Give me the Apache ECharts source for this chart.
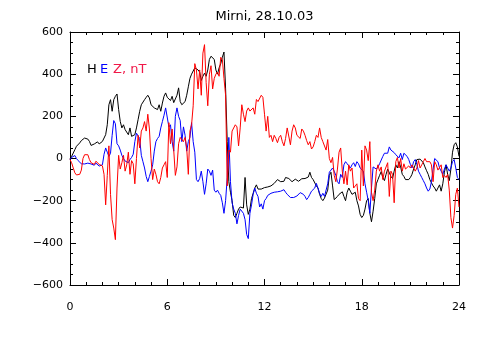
<!DOCTYPE html>
<html>
<head>
<meta charset="utf-8">
<script src="https://cdn.jsdelivr.net/npm/echarts@6/dist/echarts.min.js"></script>
<style>html,body{margin:0;padding:0;background:#fff}#c{width:480px;height:350px}</style>
</head>
<body>
<div id="c"></div>
<script>
// Time step of the records (hours)
const STEP_HOURS = 0.1;
const xTicks = [0, 6, 12, 18, 24];
const yTicks = [-600, -400, -200, 0, 200, 400, 600];
const seriesNames = ['H', 'E', 'Z'];

// H component, nT
const H_nT = [
  0,10,26,42,58,66,74,85,92,97,
  97,92,81,62,58,69,66,79,69,74,
  81,89,113,160,255,279,224,279,295,306,
  232,176,145,160,137,145,113,145,105,97,
  113,145,184,224,255,263,279,290,300,287,
  255,248,240,248,232,255,224,263,295,311,
  290,287,275,295,265,270,300,335,270,255,
  260,270,300,340,380,400,415,430,425,420,
  410,370,390,405,390,420,470,485,490,470,
  420,400,430,450,480,505,330,80,-110,-160,
  -200,-270,-280,-260,-240,-230,-225,-235,-90,-220,
  -265,-240,-190,-165,-140,-125,-145,-150,-145,-140,
  -138,-140,-135,-140,-130,-122,-118,-112,-100,-105,
  -110,-102,-108,-90,-92,-95,-100,-110,-106,-98,
  -104,-108,-100,-96,-100,-95,-92,-88,-65,-90,
  -100,-108,-130,-140,-170,-190,-200,-188,-180,-150,
  -80,-65,-130,-195,-195,-180,-170,-165,-158,-180,
  -200,-160,-140,-155,-170,-175,-160,-200,-225,-265,
  -280,-270,-240,-200,-190,-260,-300,-250,-190,-120,
  -100,-80,-62,-90,-105,-75,-50,-55,-85,-95,
  -60,-30,-45,-15,-40,-75,-85,-100,-108,-100,
  -90,-75,-50,-30,-5,0,-3,-10,-20,-40,
  -58,-75,-100,-115,-130,-140,-155,-140,-125,-155,
  -120,-65,-30,-75,-105,-50,30,65,75,55,
  10
];

// E component, nT
const E_nT = [
  -5,5,10,14,0,-10,-18,-25,-28,-26,
  -28,-22,-28,-26,-30,-32,-22,-30,-36,-42,
  -30,20,50,30,10,25,110,180,165,70,
  60,40,15,0,-12,-5,-20,-5,5,20,
  80,120,128,95,15,-15,-45,-85,-110,-85,
  -60,-30,35,80,95,105,145,175,205,240,
  245,150,160,80,35,200,240,200,180,80,
  150,110,35,80,100,170,80,30,-100,-110,
  -95,-60,-110,-170,-120,-50,-60,-80,-55,-150,
  -160,-150,-165,-175,-210,-260,-200,-90,100,-110,
  -210,-240,-260,-310,-270,-240,-235,-260,-290,-360,
  -380,-260,-220,-170,-140,-165,-180,-230,-215,-240,
  -200,-190,-175,-180,-165,-170,-160,-168,-158,-165,
  -155,-150,-148,-160,-170,-178,-185,-192,-185,-192,
  -178,-170,-162,-158,-170,-180,-195,-185,-170,-155,
  -148,-140,-118,-125,-165,-180,-165,-180,-175,-120,
  -65,-55,-45,-60,-80,-110,-120,-75,-90,-30,
  -15,-25,-35,-45,-30,-20,-38,-15,-25,-45,
  -40,-60,-120,-160,-200,-260,-140,-40,-35,-50,
  -40,-25,-20,10,25,18,25,55,40,35,
  28,18,10,3,25,-5,25,18,10,-5,
  -28,-45,-15,-5,-28,-60,-75,-90,-105,-120,
  -140,-155,-145,-110,-50,0,5,-15,-45,-60,
  -75,-50,-30,-45,-60,-45,-15,-5,-45,-90,
  -100
];

// Z component, nT
const Z_nT = [
  -5,-20,-45,-68,-78,-85,-75,-55,0,18,
  10,18,-5,-20,-13,-28,-13,-5,-28,-20,
  -35,-75,-220,-80,60,-170,-290,-330,-385,-140,
  15,-50,-20,15,-60,-30,30,-75,-10,-25,
  -120,0,110,50,130,145,175,130,210,140,
  0,-100,-50,-75,-110,-120,-90,-45,-30,-15,
  -90,170,70,140,40,-80,-40,70,100,100,
  80,100,50,-75,130,160,250,450,420,330,
  420,300,500,540,360,250,400,440,330,380,
  400,410,390,480,470,380,300,-130,40,30,
  130,130,160,150,60,145,255,210,175,225,
  240,225,225,240,210,280,270,265,300,290,
  210,130,200,100,110,80,110,95,75,100,
  110,80,60,95,145,150,65,130,160,145,
  110,115,95,140,130,110,85,65,80,45,
  55,80,110,100,145,100,80,75,40,90,
  0,-20,5,-80,-110,-50,30,50,-60,-120,
  -60,-125,-30,-60,-45,-140,-130,-120,-190,-200,
  40,-130,60,40,-10,80,-160,-200,-150,-60,
  -30,-60,-40,-100,-60,-55,-20,-180,-60,-75,
  -210,-15,5,-45,0,-60,-25,-50,-45,-35,
  -45,-30,-30,-60,-45,-10,-45,-30,-15,0,
  -15,-10,-15,-30,-110,-15,-30,-55,-60,-30,
  -90,-80,-90,-75,-150,-280,-330,-270,-170,-140,
  -230
];

const seriesValues = [H_nT, E_nT, Z_nT];
const seriesColors = ['#000000', '#0000ff', '#ff0000'];

function toPairs(vals) {
  return vals.map((v, i) => [Math.round(i * STEP_HOURS * 100) / 100, v]);
}

const FONT = 'DejaVu Sans';
const minusFmt = v => (v < 0 ? '\u2212' + (-v) : String(v));

function xAxisDef(pos, showLabel) {
  return {
    type: 'value', position: pos, gridIndex: 0,
    min: xTicks[0], max: xTicks[xTicks.length - 1], interval: 6,
    axisLine: { show: true, onZero: false, lineStyle: { color: '#000', width: 1 } },
    axisTick: { show: true, inside: true, length: 6, lineStyle: { color: '#000' } },
    minorTick: { show: true, splitNumber: 6, length: 3, lineStyle: { color: '#000' } },
    splitLine: { show: false },
    axisLabel: { show: showLabel, color: '#000', fontFamily: FONT, fontSize: 11, margin: 17,
      formatter: minusFmt }
  };
}
function yAxisDef(pos, showLabel) {
  return {
    type: 'value', position: pos, gridIndex: 0,
    min: yTicks[0], max: yTicks[yTicks.length - 1], interval: 200,
    axisLine: { show: true, onZero: false, lineStyle: { color: '#000', width: 1 } },
    axisTick: { show: true, inside: true, length: 6, lineStyle: { color: '#000' } },
    minorTick: { show: true, splitNumber: 4, length: 3, lineStyle: { color: '#000' } },
    splitLine: { show: false },
    axisLabel: { show: showLabel, color: '#000', fontFamily: FONT, fontSize: 11, margin: 7,
      formatter: minusFmt }
  };
}

const chart = echarts.init(document.getElementById('c'), null, { renderer: 'canvas' });
chart.setOption({
  animation: false,
  backgroundColor: '#ffffff',
  title: [
    {
      text: 'Mirni, 28.10.03', left: 264.5, top: 10, textAlign: 'center', padding: 0,
      textStyle: { fontFamily: FONT, fontSize: 13, fontWeight: 'normal', color: '#000' }
    },
    {
      text: '{h|H}{e|E}{z|Z, nT}', left: 87, top: 63, padding: 0,
      textStyle: {
        fontFamily: FONT, fontSize: 13, fontWeight: 'normal',
        rich: {
          h: { color: '#000000', fontFamily: FONT, fontSize: 13, width: 13 },
          e: { color: '#0000ff', fontFamily: FONT, fontSize: 13, width: 13 },
          z: { color: '#f01848', fontFamily: FONT, fontSize: 13 }
        }
      }
    }
  ],
  grid: { left: 70, right: 21, top: 32, bottom: 65, containLabel: false, outerBoundsMode: 'none' },
  xAxis: [xAxisDef('bottom', true), xAxisDef('top', false)],
  yAxis: [yAxisDef('left', true), yAxisDef('right', false)],
  series: seriesValues.map((vals, k) => ({
    name: seriesNames[k], type: 'line', xAxisIndex: 0, yAxisIndex: 0,
    data: toPairs(vals), showSymbol: false, symbol: 'none', silent: true,
    lineStyle: { color: seriesColors[k], width: 1 }, itemStyle: { color: seriesColors[k] },
    z: 2 + k
  }))
});
</script>
</body>
</html>
